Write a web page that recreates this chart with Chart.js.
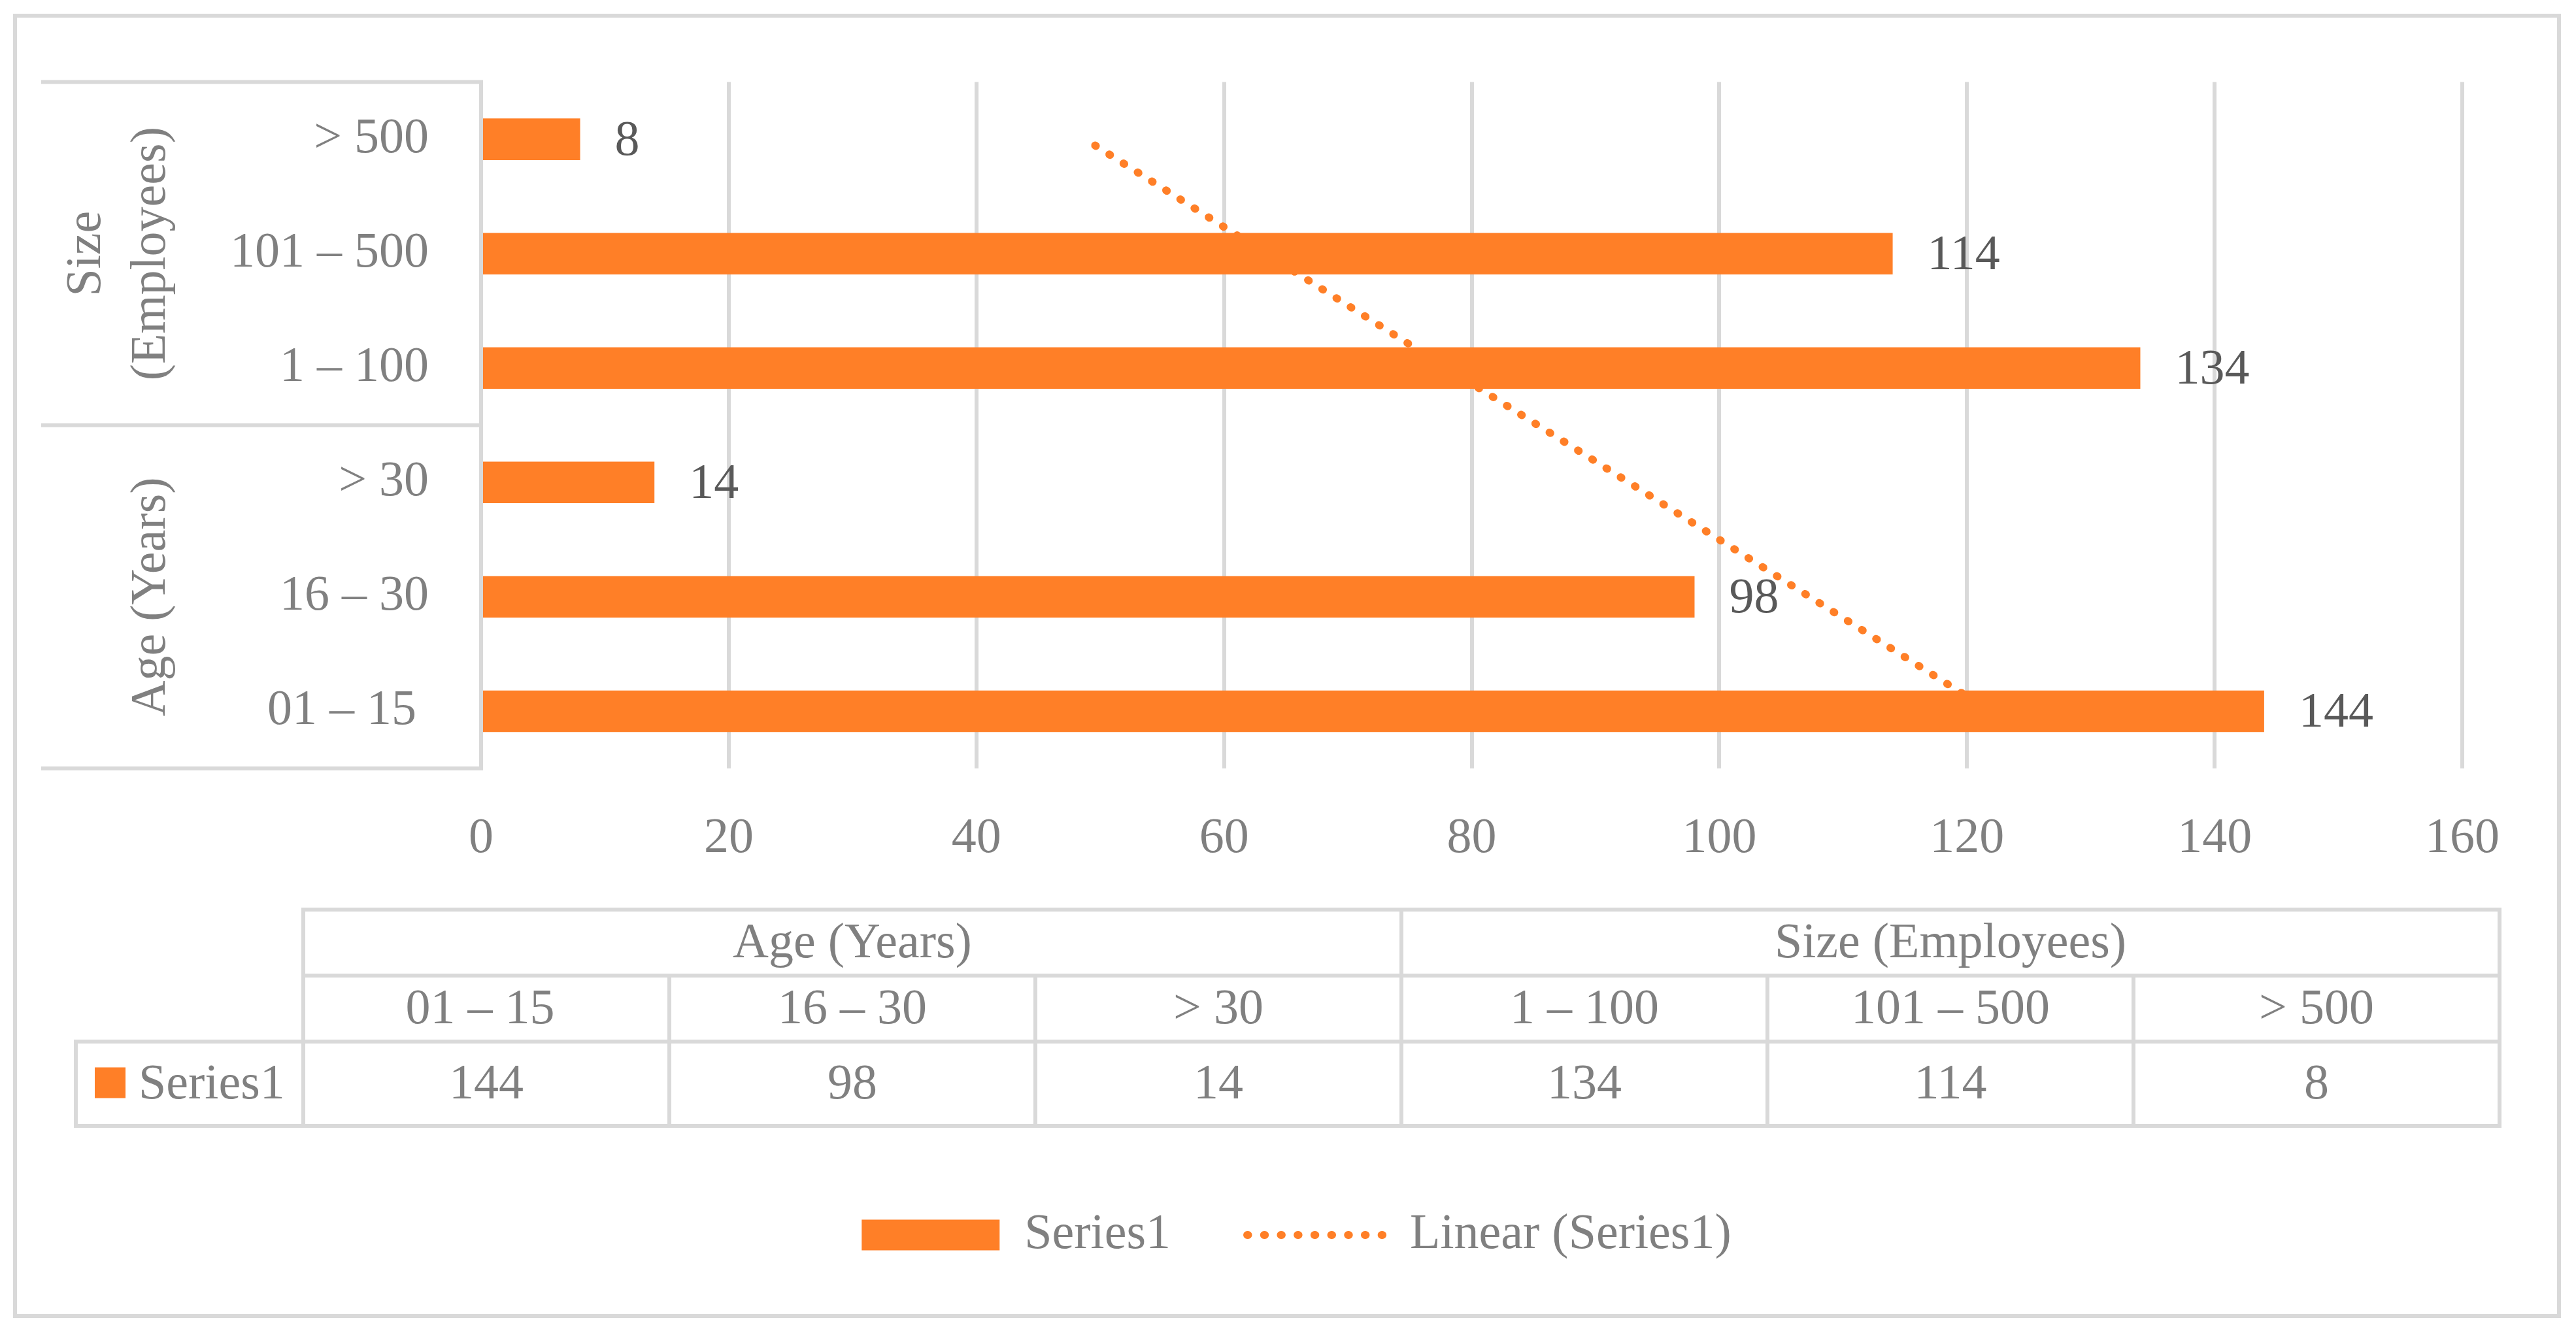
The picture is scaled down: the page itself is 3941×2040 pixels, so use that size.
<!DOCTYPE html>
<html>
<head>
<meta charset="utf-8">
<title>Series1 by age and size</title>
<script src="https://cdn.jsdelivr.net/npm/chart.js@4.4.1/dist/chart.umd.min.js"></script>
<style>
  html, body { margin: 0; padding: 0; background: #fff; }
  canvas { display: block; }
</style>
</head>
<body>
<canvas id="myChart" width="3941" height="2040"></canvas>
<script>
// Chart data (category order = data table order, first one is drawn at the bottom)
const categories = ['01 – 15 ', '16 – 30', '> 30', '1 – 100', '101 – 500', '> 500'];
const groupNames = ['Age (Years)', 'Size (Employees)'];
const groupCounts = [3, 3];
const series1 = [144, 98, 14, 134, 114, 8];
// linear trend, at each category centre
const trendSeries1 = [121.9, 107.3, 92.7, 78.0, 63.4, 48.8];
const xTicks = [0, 20, 40, 60, 80, 100, 120, 140, 160];

// Styles
const ORANGE = '#FF7F27';
const LINE_GRAY = '#D9D9D9';
const TEXT_GRAY = '#808080';
const LABEL_GRAY = '#595959';
const FONT = "'Liberation Serif', 'Times New Roman', serif";
const FONT_SIZE = 76;
const FONT_STR = FONT_SIZE + 'px ' + FONT;


function hLine(ctx, x1, x2, y) {
    ctx.beginPath();
    ctx.moveTo(x1, y);
    ctx.lineTo(x2, y);
    ctx.stroke();
}

function vLine(ctx, x, y1, y2) {
    ctx.beginPath();
    ctx.moveTo(x, y1);
    ctx.lineTo(x, y2);
    ctx.stroke();
}


// White background and the outer frame
const framePlugin = {
    id: 'frame',
    beforeDraw(chart) {
        const ctx = chart.ctx;
        ctx.save();
        ctx.fillStyle = '#fff';
        ctx.fillRect(0, 0, chart.width, chart.height);
        ctx.strokeStyle = LINE_GRAY;
        ctx.lineWidth = 6;
        ctx.strokeRect(23, 24, 3892, 1990);
        ctx.restore();
    }
};


// Value labels at the end of each bar
const valueLabelPlugin = {
    id: 'valueLabels',
    afterDatasetsDraw(chart) {
        const ctx = chart.ctx;
        const meta = chart.getDatasetMeta(0);
        const values = chart.data.datasets[0].data;
        ctx.save();
        ctx.font = FONT_STR;
        ctx.fillStyle = LABEL_GRAY;
        ctx.textAlign = 'left';
        ctx.textBaseline = 'middle';
        meta.data.forEach((bar, i) => {
            ctx.fillText(String(values[i]), bar.x + 53, bar.y + 4);
        });
        ctx.restore();
    }
};


// Second level of the category axis: group boxes and rotated group names
const groupAxisPlugin = {
    id: 'groupAxis',
    afterDraw(chart) {
        const ctx = chart.ctx;
        const yScale = chart.scales.y;
        const area = chart.chartArea;
        const boxLeft = 66;

        ctx.save();
        ctx.strokeStyle = LINE_GRAY;
        ctx.lineWidth = 6;
        ctx.lineCap = 'square';
        ctx.font = FONT_STR;
        ctx.fillStyle = TEXT_GRAY;

        let start = 0;
        hLine(ctx, boxLeft, area.left, yScale.getPixelForValue(-0.5));
        groupNames.forEach((name, g) => {
            const end = start + groupCounts[g];
            const edgeA = yScale.getPixelForValue(start - 0.5);
            const edgeB = yScale.getPixelForValue(end - 0.5);
            hLine(ctx, boxLeft, area.left, edgeB);

            // wrap the name when it does not fit the group height
            const span = Math.abs(edgeA - edgeB) - 40;
            let lines = [name];
            if (ctx.measureText(name).width > span && name.indexOf(' ') > 0) {
                const k = name.indexOf(' ');
                lines = [name.slice(0, k), name.slice(k + 1)];
            }
            const cy = (edgeA + edgeB) / 2;
            lines.forEach((line, k) => {
                const bx = 252 - (lines.length - 1 - k) * 99;
                ctx.save();
                ctx.translate(bx, cy);
                ctx.rotate(-Math.PI / 2);
                ctx.textAlign = 'center';
                ctx.textBaseline = 'alphabetic';
                ctx.fillText(line, 0, 0);
                ctx.restore();
            });
            start = end;
        });
        ctx.restore();
    }
};


// Data table under the axis
const dataTablePlugin = {
    id: 'dataTable',
    afterDraw(chart) {
        const ctx = chart.ctx;
        const tableLeft = 464;
        const colW = 560;
        const legendLeft = 116;
        const rows = [1392, 1493, 1594, 1723];
        const tableRight = tableLeft + colW * categories.length;

        ctx.save();
        ctx.strokeStyle = LINE_GRAY;
        ctx.lineWidth = 6;
        ctx.lineCap = 'square';

        // horizontal rules
        hLine(ctx, tableLeft, tableRight, rows[0]);
        hLine(ctx, tableLeft, tableRight, rows[1]);
        hLine(ctx, legendLeft, tableRight, rows[2]);
        hLine(ctx, legendLeft, tableRight, rows[3]);
        // outer verticals
        vLine(ctx, legendLeft, rows[2], rows[3]);
        vLine(ctx, tableLeft, rows[0], rows[3]);
        vLine(ctx, tableRight, rows[0], rows[3]);
        // group and column dividers
        let col = 0;
        groupCounts.forEach((count, g) => {
            for (let i = 1; i < count; i++) {
                vLine(ctx, tableLeft + (col + i) * colW, rows[1], rows[3]);
            }
            col += count;
            if (g < groupCounts.length - 1) {
                vLine(ctx, tableLeft + col * colW, rows[0], rows[3]);
            }
        });

        ctx.font = FONT_STR;
        ctx.fillStyle = TEXT_GRAY;
        ctx.textAlign = 'center';
        ctx.textBaseline = 'alphabetic';

        // group header row
        col = 0;
        groupNames.forEach((name, g) => {
            const cx = tableLeft + (col + groupCounts[g] / 2) * colW;
            ctx.fillText(name, cx, (rows[0] + rows[1]) / 2 + 22);
            col += groupCounts[g];
        });
        // categories and values
        categories.forEach((cat, i) => {
            const cx = tableLeft + (i + 0.5) * colW;
            ctx.fillText(cat, cx, (rows[1] + rows[2]) / 2 + 22);
            ctx.fillText(String(series1[i]), cx, (rows[2] + rows[3]) / 2 + 22);
        });

        // legend key of the series row
        const midY = (rows[2] + rows[3]) / 2;
        ctx.fillStyle = ORANGE;
        ctx.fillRect(145, midY - 25, 47, 47);
        ctx.fillStyle = TEXT_GRAY;
        ctx.textAlign = 'left';
        ctx.fillText(chart.data.datasets[0].label, 212, midY + 22);
        ctx.restore();
    }
};


const ctx = document.getElementById('myChart').getContext('2d');

const config = {
    type: 'bar',
    data: {
        labels: categories,
        datasets: [
            {
                type: 'bar',
                label: 'Series1',
                data: series1,
                backgroundColor: ORANGE,
                borderWidth: 0,
                barPercentage: 0.363,
                categoryPercentage: 1.0,
                order: 0
            },
            {
                type: 'line',
                label: 'Linear (Series1)',
                data: trendSeries1,
                indexAxis: 'y',
                borderColor: ORANGE,
                backgroundColor: ORANGE,
                borderWidth: 12,
                borderDash: [1.5, 24.2],
                borderCapStyle: 'round',
                pointRadius: 0,
                fill: false,
                tension: 0,
                order: 1
            }
        ]
    },
    options: {
        indexAxis: 'y',
        responsive: false,
        animation: false,
        devicePixelRatio: 1,
        layout: {
            padding: { left: 200, right: 174, top: 116, bottom: 102 }
        },
        scales: {
            x: {
                type: 'linear',
                position: 'bottom',
                min: xTicks[0],
                max: xTicks[xTicks.length - 1],
                ticks: {
                    stepSize: xTicks[1] - xTicks[0],
                    padding: 62,
                    color: TEXT_GRAY,
                    font: { family: FONT, size: FONT_SIZE },
                    maxRotation: 0,
                    autoSkip: false
                },
                grid: { color: LINE_GRAY, lineWidth: 6, drawTicks: false },
                border: { display: false },
                afterFit: scale => { scale.height = 559; }
            },
            y: {
                type: 'category',
                reverse: true,
                ticks: {
                    padding: 80,
                    color: TEXT_GRAY,
                    font: { family: FONT, size: FONT_SIZE },
                    autoSkip: false
                },
                grid: { display: false, drawTicks: false },
                border: { display: true, color: LINE_GRAY, width: 6 },
                afterFit: scale => { scale.width = 536; }
            }
        },
        plugins: {
            tooltip: { enabled: false },
            legend: {
                position: 'bottom',
                labels: {
                    usePointStyle: true,
                    pointStyleWidth: 211,
                    boxHeight: 47,
                    padding: 117,
                    color: TEXT_GRAY,
                    font: { family: FONT, size: FONT_SIZE },
                    generateLabels(chart) {
                        const items = Chart.defaults.plugins.legend.labels.generateLabels(chart);
                        items.forEach(item => {
                            const ds = chart.data.datasets[item.datasetIndex];
                            if (ds.type === 'line') {
                                item.pointStyle = 'line';
                                item.strokeStyle = ds.borderColor;
                                item.lineWidth = ds.borderWidth;
                                item.lineDash = ds.borderDash;
                                item.lineCap = ds.borderCapStyle;
                            } else {
                                item.pointStyle = 'rect';
                                item.fillStyle = ds.backgroundColor;
                                item.lineWidth = 0;
                            }
                        });
                        return items;
                    }
                }
            }
        }
    },
    plugins: [framePlugin, valueLabelPlugin, groupAxisPlugin, dataTablePlugin]
};

window.myChart = new Chart(ctx, config);
</script>
</body>
</html>
